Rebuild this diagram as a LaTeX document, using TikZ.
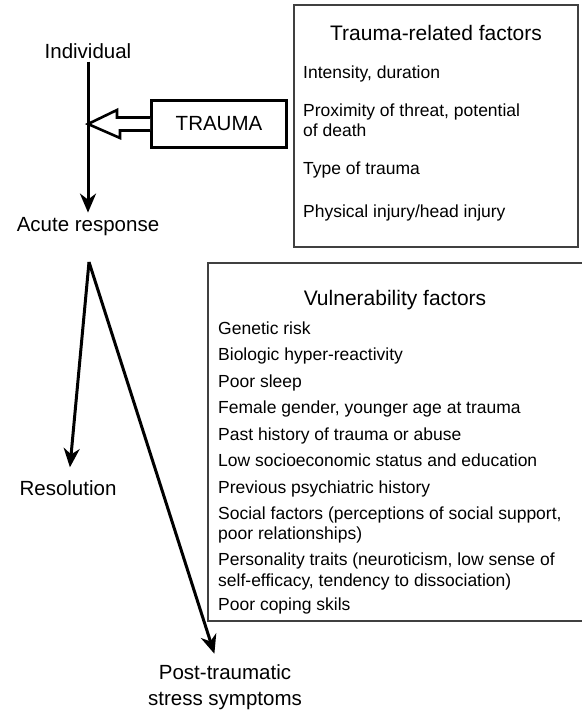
\documentclass[tikz,border=0pt]{standalone}
\usepackage{fontspec}
\setmainfont{Liberation Sans}
\usetikzlibrary{arrows.meta}
\tikzset{
  lbl/.style={font=\fontsize{20.5}{26}\selectfont, inner sep=0pt},
  head/.style={font=\fontsize{21}{24}\selectfont, inner sep=0pt, anchor=base},
  item/.style={font=\fontsize{17.5}{20.5}\selectfont, inner sep=0pt, anchor=base west, align=left},
  factorbox/.style={draw=black!75, line width=1.4pt},
  arr/.style={line width=3pt, -{Stealth[length=19pt,width=16pt,inset=6pt]}},
  tbox/.style={draw=black, line width=3pt, minimum width=135pt, minimum height=47pt,
    inner sep=0pt, font=\fontsize{20.5}{23}\selectfont},
  hollow/.style={draw=black, line width=2.6pt, line join=miter, fill=white}
}
\begin{document}
\begin{tikzpicture}[x=1pt,y=-1pt]
\useasboundingbox (0,0) rectangle (581,712);

% factor boxes
\draw[factorbox] (294,5) rectangle (578,247);
\draw[factorbox] (208,263) rectangle (583,621);

% item positions are baselines (of the last line for two-line items)
\node[head] (trt) at (436,40) {Trauma-related factors};
\node[item] (t1) at (303,78) {Intensity, duration};
\node[item] (t2) at (303,136.5) {Proximity of threat, potential\\of death};
\node[item] (t3) at (303,174) {Type of trauma};
\node[item] (t4) at (303,217) {Physical injury/head injury};

\node[head] (vft) at (395,305) {Vulnerability factors};
\node[item] (v1) at (218,334) {Genetic risk};
\node[item] (v2) at (218,360) {Biologic hyper-reactivity};
\node[item] (v3) at (218,387) {Poor sleep};
\node[item] (v4) at (218,413) {Female gender, younger age at trauma};
\node[item] (v5) at (218,440) {Past history of trauma or abuse};
\node[item] (v6) at (218,466) {Low socioeconomic status and education};
\node[item] (v7) at (218,493) {Previous psychiatric history};
\node[item] (v8) at (218,539.5) {Social factors (perceptions of social support,\\poor relationships)};
\node[item] (v9) at (218,586) {Personality traits (neuroticism, low sense of\\self-efficacy, tendency to dissociation)};
\node[item] (v10) at (218,610) {Poor coping skils};

% pathway
\node[lbl] (ind) at (88,51) {Individual};
\node[lbl] (acute) at (88,227) {Acute response};
\node[lbl] (res) at (68,488) {Resolution};
\node[lbl, align=center] (ptss) at (225,687) {Post-traumatic\\stress symptoms};
\coordinate (apex) at (89,262);

\draw[arr, shorten <=3pt, shorten >=5pt] (ind) -- (acute);
\draw[arr, shorten >=13pt] (apex) -- (res);
\draw[arr, shorten >=11pt] (apex) -- (ptss);

% trauma and its hollow arrow
\node[tbox] (trauma) at (219,124) {TRAUMA};
\coordinate (tip) at (ind.south |- trauma.west);
\draw[hollow]
  ([yshift=6.5pt]trauma.west) -- ++(-33,0) -- ++(0,-7.5) -- (tip)
  -- ++(32,14) -- ++(0,-7.5) -- ([yshift=-6.5pt]trauma.west);
\end{tikzpicture}
\end{document}
